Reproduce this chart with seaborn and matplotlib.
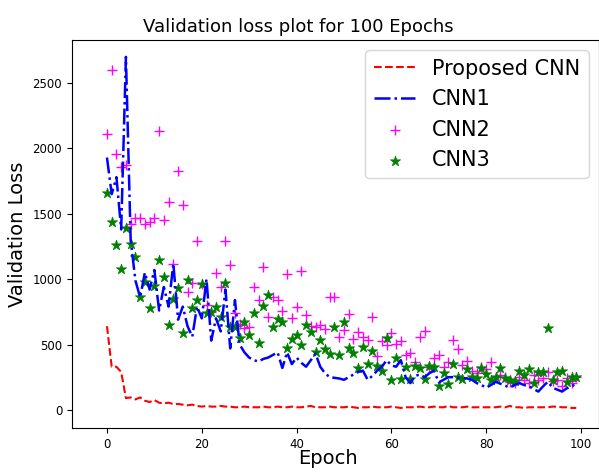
import numpy as np
import pandas as pd
import matplotlib
matplotlib.use("Agg")
import matplotlib.pyplot as plt
import seaborn as sns

epochs = list(range(100))

proposed_cnn = [640, 330, 330, 290, 90, 95, 80, 95, 70, 60,
                75, 55, 50, 55, 45, 45, 40, 35, 40, 30,
                25, 30, 25, 25, 30, 25, 25, 20, 20, 25,
                20, 20, 20, 25, 20, 20, 25, 20, 20, 25,
                20, 20, 25, 30, 20, 20, 20, 25, 20, 20,
                20, 25, 20, 15, 20, 20, 25, 20, 20, 20,
                25, 20, 15, 20, 20, 20, 25, 20, 20, 25,
                20, 20, 30, 20, 20, 20, 25, 20, 20, 20,
                20, 20, 20, 25, 20, 30, 20, 20, 15, 20,
                20, 20, 20, 20, 25, 25, 20, 20, 15, 15]

cnn1 = [1930, 1650, 1780, 1380, 2700, 1300, 990, 860, 1050, 920,
        1070, 760, 940, 790, 1120, 690, 790, 640, 560, 790,
        700, 1000, 530, 700, 600, 920, 470, 840, 500, 440,
        400, 380, 370, 390, 400, 420, 440, 320, 440, 350,
        400, 360, 330, 380, 430, 330, 280, 250, 245, 240,
        230, 250, 270, 290, 300, 230, 260, 300, 330, 380,
        340, 330, 380, 250, 205, 260, 270, 250, 280, 300,
        210, 230, 250, 250, 245, 245, 240, 230, 205, 190,
        170, 190, 215, 200, 185, 170, 190, 205, 190, 180,
        160, 140, 180, 215, 170, 155, 140, 165, 180, 200]

cnn2 = [2110, 2600, 1955, 1855, 1870, 1425, 1465, 1465, 1420, 1435,
        1465, 2130, 1455, 1590, 1115, 1830, 1565, 900, 970, 1290,
        960, 800, 750, 1045, 940, 1290, 1110, 740, 660, 625,
        635, 940, 840, 1090, 710, 860, 840, 760, 1040, 700,
        790, 1060, 725, 640, 635, 650, 620, 865, 865, 555,
        610, 730, 540, 595, 560, 535, 710, 410, 525, 500,
        590, 505, 525, 420, 435, 365, 560, 600, 330, 400,
        420, 330, 365, 535, 465, 345, 375, 300, 280, 330,
        310, 365, 255, 270, 250, 215, 205, 255, 230, 205,
        265, 230, 240, 290, 220, 230, 180, 245, 205, 255]

cnn3 = [1655, 1435, 1260, 1075, 1390, 1270, 1170, 865, 975, 780,
        945, 1145, 1015, 650, 845, 930, 590, 990, 780, 840,
        960, 740, 750, 790, 710, 970, 635, 635, 550, 670,
        570, 740, 510, 795, 875, 635, 695, 670, 470, 540,
        570, 495, 650, 595, 440, 535, 465, 425, 635, 420,
        670, 475, 435, 320, 480, 350, 450, 335, 300, 550,
        230, 400, 235, 330, 235, 335, 320, 235, 335, 330,
        185, 280, 200, 350, 255, 235, 310, 255, 245, 320,
        275, 230, 255, 320, 245, 230, 220, 300, 270, 310,
        205, 290, 290, 630, 230, 290, 300, 215, 255, 255]

df = pd.DataFrame({"epoch": epochs, "proposed": proposed_cnn,
                   "cnn1": cnn1, "cnn2": cnn2, "cnn3": cnn3})

fig = plt.figure(figsize=(5.99, 4.76), dpi=100)
ax = fig.add_axes([0.120, 0.101, 0.88, 0.815])

sns.lineplot(data=df, x="epoch", y="proposed", ax=ax, color="red",
             linestyle="--", linewidth=1.5, label="Proposed CNN")
sns.lineplot(data=df, x="epoch", y="cnn1", ax=ax, color="blue",
             linestyle="-.", linewidth=1.8, label="CNN1")
sns.scatterplot(data=df, x="epoch", y="cnn2", ax=ax, color="magenta",
                marker="+", s=50, linewidth=1.0, label="CNN2")
sns.scatterplot(data=df, x="epoch", y="cnn3", ax=ax, color="green",
                marker="*", s=60, edgecolor="green", linewidth=0.5, label="CNN3")

ax.set_xlim(-7.4, 103.8)
ax.set_ylim(-138, 2829)
ax.set_xticks([0, 20, 40, 60, 80, 100])
ax.set_yticks([0, 500, 1000, 1500, 2000, 2500])
ax.tick_params(labelsize=8.5)

ax.set_title("Validation loss plot for 100 Epochs", fontsize=13, x=0.43)
ax.set_xlabel("Epoch", fontsize=14)
ax.set_ylabel("Validation Loss", fontsize=14)
ax.xaxis.set_label_coords(0.485, -0.055)

ax.legend(loc="upper right", fontsize=15)

fig.savefig("out.png", dpi=100)
